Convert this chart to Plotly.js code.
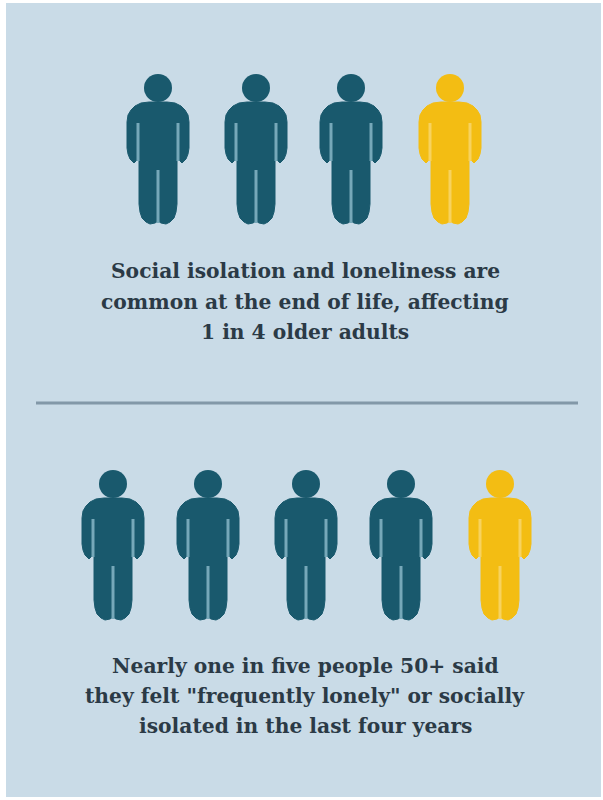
<!DOCTYPE html>
<html>
<head>
<meta charset="utf-8">
<script src="https://cdn.plot.ly/plotly-3.0.1.min.js"></script>
<style>html,body{margin:0;padding:0;background:#fff}</style>
</head>
<body>
<div id="chart" style="width:603px;height:800px"></div>
<script>
// Each row: who is counted, one entry per figure
const rowOneKinds = ["other", "other", "other", "lonely"];
const rowTwoKinds = ["other", "other", "other", "other", "lonely"];

const rowOneCaption = ["Social isolation and loneliness are", "common at the end of life, affecting", "1 in 4 older adults"];
const rowTwoCaption = ["Nearly one in five people 50+ said", "they felt \"frequently lonely\" or socially", "isolated in the last four years"];

// Page layout in pixels
const rowOneX = [158, 256, 351, 450];
const rowTwoX = [113, 208, 306, 401, 500];
const rowOneTop = 74, rowTwoTop = 470;
const colours = {other: "#19596d", lonely: "#f3bd13"};
const slitColours = {other: "#76a8b9", lonely: "#f7d25f"};
const panel = "#c9dbe7";

// Body outline relative to the figure's centre line and the top of its head
const bodyX = [-9,9,17,23,27,30,31,31,30,28,24,19,19,19,18,16,12,8,3,0,-3,-8,-12,-16,-18,-19,-19,-19,-24,-28,-30,-31,-31,-30,-27,-23,-17,-9];
const bodyY = [28,28,29,32,36,41,48,74,80,85,89,84,96,130,138,144,148,150,149,147,149,150,148,144,138,130,96,84,89,85,80,74,48,41,36,32,29,28];
// Thin gaps: two beside the arms and one between the legs
const slits = [
  {x: [-20, -20], y: [49, 87]},
  {x: [20, 20], y: [49, 87]},
  {x: [0, 0], y: [96, 149]}
];
const headY = 14, headSize = 28;

const traces = [];
function addFigure(cx, top, kind) {
  traces.push({
    type: "scatter", mode: "lines", fill: "toself", hoverinfo: "skip",
    x: bodyX.map(v => v + cx), y: bodyY.map(v => v + top),
    fillcolor: colours[kind], line: {color: colours[kind], width: 1}
  });
  slits.forEach(s => traces.push({
    type: "scatter", mode: "lines", hoverinfo: "skip",
    x: s.x.map(v => v + cx), y: s.y.map(v => v + top),
    line: {color: slitColours[kind], width: 3}
  }));
  traces.push({
    type: "scatter", mode: "markers", hoverinfo: "skip",
    x: [cx], y: [top + headY],
    marker: {size: headSize, color: colours[kind], line: {width: 0}}
  });
}
rowOneKinds.forEach((k, i) => addFigure(rowOneX[i], rowOneTop, k));
rowTwoKinds.forEach((k, i) => addFigure(rowTwoX[i], rowTwoTop, k));

const annotations = [];
function addCaption(lines, ys) {
  lines.forEach((t, i) => annotations.push({
    text: t, x: 305, y: ys[i], xref: "x", yref: "y", showarrow: false,
    xanchor: "center", yanchor: "middle",
    font: {family: "'DejaVu Serif', serif", size: 20.25, color: "#2b3a46", weight: 700}
  }));
}
addCaption(rowOneCaption, [271, 302, 332]);
addCaption(rowTwoCaption, [666, 696, 726]);

const layout = {
  width: 603, height: 800,
  margin: {l: 6, r: 2, t: 3, b: 3},
  paper_bgcolor: "#ffffff", plot_bgcolor: panel,
  showlegend: false,
  xaxis: {range: [6, 601], visible: false, fixedrange: true},
  yaxis: {range: [797, 3], visible: false, fixedrange: true},
  annotations,
  shapes: [{type: "line", xref: "x", yref: "y", x0: 36, x1: 578, y0: 403, y1: 403,
            line: {color: "#8298a8", width: 3}}]
};
Plotly.newPlot("chart", traces, layout, {displayModeBar: false, staticPlot: true});
</script>
</body>
</html>
